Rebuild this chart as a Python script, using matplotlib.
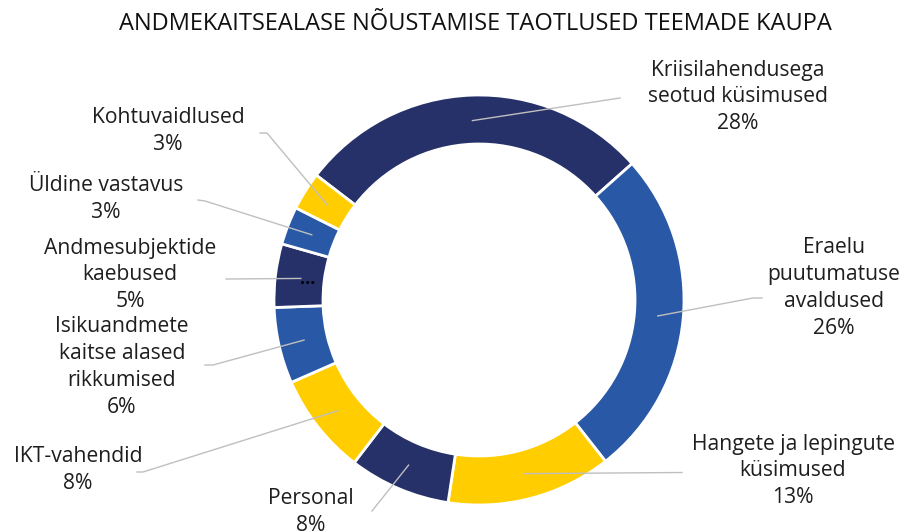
import matplotlib
matplotlib.use("Agg")
import matplotlib.pyplot as plt
import numpy as np

# Data
title = "ANDMEKAITSEALASE NÕUSTAMISE TAOTLUSED TEEMADE KAUPA"
categories = [
    "Kriisilahendusega\nseotud küsimused",
    "Eraelu\npuutumatuse\navaldused",
    "Hangete ja lepingute\nküsimused",
    "Personal",
    "IKT-vahendid",
    "Isikuandmete\nkaitse alased\nrikkumised",
    "Andmesubjektide\nkaebused",
    "Üldine vastavus",
    "Kohtuvaidlused",
]
shares = [28, 26, 13, 8, 8, 6, 5, 3, 3]

NAVY = "#273169"
BLUE = "#2959a6"
YELLOW = "#ffcd00"
colors = [NAVY, BLUE, YELLOW, NAVY, YELLOW, BLUE, NAVY, BLUE, YELLOW]

# Label layout in pixel space (text centre, leader end point(s))
label_pos = [
    (738, 97), (834, 288), (793, 471), (311, 512), (78, 470),
    (122, 367), (130, 275), (106, 199), (168, 131),
]
leader_ends = [
    [(620, 98)],
    [(753, 298), (762, 298)],
    [(682, 472.5)],
    [(372, 511)],
    [(143, 472), (137, 472)],
    [(213, 365), (205, 365)],
    [(226, 279)],
    [(205, 201), (198, 200)],
    [(267, 133), (260, 133)],
]

W, H = 901, 531
fig = plt.figure(figsize=(W / 100, H / 100), dpi=100)
ax = fig.add_axes([0, 0, 1, 1])

cx, cy = 479, 300
r_out = 205
ring = 49

wedges, _ = ax.pie(
    shares, colors=colors, center=(cx, cy), radius=r_out,
    startangle=-142.5, counterclock=True,
    wedgeprops=dict(width=ring, edgecolor="white", linewidth=2),
    frame=True,
)
ax.set_xlim(0, W)
ax.set_ylim(H, 0)
ax.set_aspect("equal")
ax.axis("off")

txt_kw = dict(fontfamily=["Open Sans", "DejaVu Sans"], fontsize=15.2,
              color="#1e1e1e", ha="center", va="center", linespacing=1.36)

r_mid = r_out - ring / 2 - 1
for w, lab, val, pos, ends in zip(wedges, categories, shares, label_pos, leader_ends):
    ang = np.deg2rad((w.theta1 + w.theta2) / 2)
    sx, sy = cx + r_mid * np.cos(ang), cy + r_mid * np.sin(ang)
    xs = [sx] + [p[0] for p in ends]
    ys = [sy] + [p[1] for p in ends]
    ax.plot(xs, ys, color="#bfbfbf", lw=1, zorder=1)
    ax.text(pos[0], pos[1], f"{lab}\n{val}%", **txt_kw)

# truncated in-ring label on the small slice
ax.text(308, 279, "...", fontsize=13, color="black", ha="center", va="center",
        fontfamily="Open Sans", fontweight="bold")

fig.text(475 / W, 1 - 24 / H, title, ha="center", va="center",
         fontsize=17, color="#111111",
         fontfamily=["Liberation Sans Narrow", "Open Sans", "DejaVu Sans"])

fig.savefig("out.png", dpi=100)
